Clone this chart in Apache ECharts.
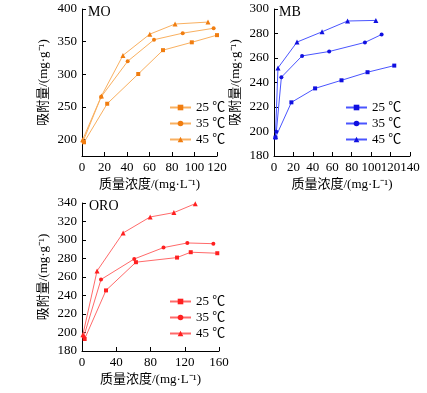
<!DOCTYPE html>
<html><head><meta charset="utf-8">
<script src="https://cdn.jsdelivr.net/npm/echarts@6/dist/echarts.min.js"></script>
<style>html,body{margin:0;padding:0;background:#fff}#c{width:427px;height:393px}</style>
</head><body><div id="c"></div>
<script>
const temps = ['25 ℃','35 ℃','45 ℃'];
// MO
const mo25 = [[1.8,196],[22.4,255],[50,300.5],[72,337],[97.6,349],[120,360]];
const mo35 = [[1,197.5],[17,265.5],[40.6,320],[64,353],[89.5,363],[117,370.5]];
const mo45 = [[0.6,200],[17.3,267],[36.4,329],[60.3,361.5],[82.7,377],[112,380]];
// MB
const mb25 = [[1.5,195],[17.9,223.8],[42.3,235.2],[69.5,241.8],[96.3,248.4],[123.8,253.8]];
const mb35 = [[2.4,199.7],[7.6,244.3],[28.9,261.7],[56.8,265.3],[93.6,272.7],[110.8,279.2]];
const mb45 = [[1.5,196],[4.1,251.9],[23.7,273],[49.5,281.4],[75.7,290.2],[104.9,290.7]];
// ORO
const oro25 = [[3.1,193],[28,245.5],[63,276],[111,281],[127,286.8],[158,285.7]];
const oro35 = [[2,195.4],[22.2,257.3],[61,279.5],[95.2,291.8],[123,296.8],[153.4,296]];
const oro45 = [[1,197.5],[17.6,266.6],[48,307.6],[79.6,324.9],[107.3,329.6],[132.3,339.3]];
const moYTicks = [200,250,300,350,400];
const mbYTicks = [180,200,220,240,260,280,300];
const oroYTicks = [180,200,220,240,260,280,300,320,340];

const FONT = '"Liberation Serif","Times New Roman","Noto Sans CJK SC",serif';
const txt = {color:'#000', fontFamily:FONT, fontSize:13};
const yName = '吸附量/(mg·g⁻¹)';
const xName = '质量浓度/(mg·L⁻¹)';

function xAxis(gi, max, interval){
  return {type:'value', gridIndex:gi, min:0, max:max, interval:interval,
    name:xName, nameLocation:'middle', nameGap:22, nameTextStyle:Object.assign({},txt,{fontSize:13}),
    axisLine:{show:true,lineStyle:{color:'#000',width:1}},
    axisTick:{show:true,inside:true,length:4,lineStyle:{color:'#000'}},
    axisLabel:Object.assign({},txt,{margin:5}),
    splitLine:{show:false}};
}
function yAxis(gi, min, max, ticks){
  return {type:'value', gridIndex:gi, min:min, max:max,
    name:yName, nameLocation:'middle', nameGap:32, nameTextStyle:Object.assign({},txt),
    axisLine:{show:true,lineStyle:{color:'#000',width:1}},
    axisTick:{show:true,inside:true,length:4,lineStyle:{color:'#000'},customValues:ticks},
    axisLabel:Object.assign({},txt,{margin:5,customValues:ticks}),
    splitLine:{show:false}};
}
const symbols = ['rect','circle','triangle'];
const symSizes = [4,4,5];
function series(prefix, gi, datas, lineColor, markColor){
  return datas.map((d,i)=>({
    type:'line', name:prefix+'|'+temps[i], xAxisIndex:gi, yAxisIndex:gi, data:d,
    symbol:symbols[i], symbolSize:symSizes[i], showSymbol:true,
    lineStyle:{color:lineColor,width:1}, itemStyle:{color:markColor}, animation:false
  }));
}
function legend(prefix, left, top){
  return {left:left, top:top, orient:'vertical', itemGap:3, itemWidth:21, itemHeight:7,
    data:temps.map(t=>prefix+'|'+t), formatter:n=>n.split('|')[1],
    textStyle:Object.assign({},txt,{fontSize:13,padding:[0,0,0,0]}), selectedMode:false};
}
const chart = echarts.init(document.getElementById('c'), null, {renderer:'canvas'});
chart.setOption({
  backgroundColor:'#fff', animation:false,
  grid:[
    {left:82, top:9, width:135, height:147},
    {left:274, top:9, width:136, height:147},
    {left:82, top:203, width:137, height:148}
  ],
  xAxis:[xAxis(0,120,20), xAxis(1,140,20), xAxis(2,160,40)],
  yAxis:[yAxis(0,175,400,moYTicks), yAxis(1,180,300,mbYTicks), yAxis(2,180,340,oroYTicks)],
  title:[
    {text:'MO', left:88, top:5, textStyle:Object.assign({},txt,{fontSize:14,fontWeight:'normal'}), padding:0},
    {text:'MB', left:279, top:5, textStyle:Object.assign({},txt,{fontSize:14,fontWeight:'normal'}), padding:0},
    {text:'ORO', left:89, top:199, textStyle:Object.assign({},txt,{fontSize:14,fontWeight:'normal'}), padding:0}
  ],
  legend:[legend('MO',164,96), legend('MB',340,96), legend('ORO',164,290)],
  series:[].concat(
    series('MO',0,[mo25,mo35,mo45],'#f9b060','#f07d10'),
    series('MB',1,[mb25,mb35,mb45],'#4a55ff','#1010e0'),
    series('ORO',2,[oro25,oro35,oro45],'#ff6a6a','#ff2020')
  )
});
</script></body></html>
